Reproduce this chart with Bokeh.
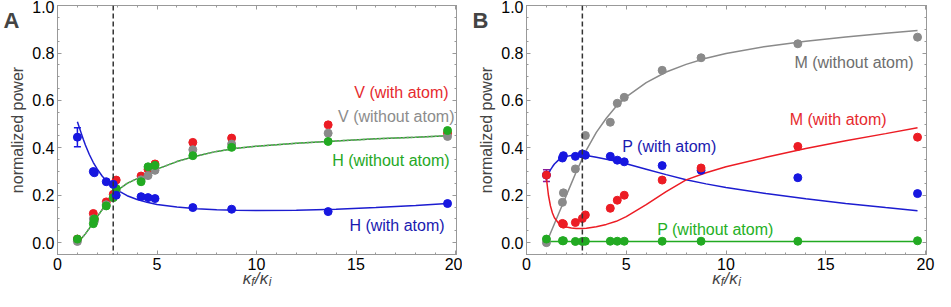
from bokeh.plotting import figure
from bokeh.layouts import row
from bokeh.models import (ColumnDataSource, FixedTicker, PrintfTickFormatter, Span,
                          Whisker, TeeHead, LinearAxis, Range1d)
from bokeh.core.properties import value
from bokeh.embed import file_html
from bokeh.resources import INLINE

# ---------------- data ----------------
kappa = [1.0, 1.8, 1.85, 2.45, 2.8, 2.95, 4.2, 4.55, 4.9, 6.8, 8.75, 13.6, 19.6]

# Panel A
a_h_with = [0.445, 0.30, 0.295, 0.257, 0.246, 0.20, 0.194, 0.19, 0.186, 0.148, 0.141, 0.131, 0.165]
a_v_with = [0.015, 0.123, 0.10, 0.172, 0.204, 0.264, 0.281, 0.309, 0.332, 0.423, 0.441, 0.497, 0.462]
a_v_without = [0.005, 0.10, 0.09, 0.16, 0.19, 0.22, 0.265, 0.283, 0.305, 0.392, 0.416, 0.462, 0.448]
a_h_without = [0.015, 0.08, 0.10, 0.155, 0.19, 0.228, 0.257, 0.32, 0.326, 0.367, 0.402, 0.427, 0.473]
a_err_x = [1.0]
a_err_y = [0.445]
a_err = [0.04]

# Panel B
b_m_without = [0.0, 0.17, 0.21, 0.311, 0.374, 0.452, 0.508, 0.588, 0.613, 0.727, 0.78, 0.839, 0.867]
b_m_with = [0.285, 0.081, 0.078, 0.085, 0.102, 0.117, 0.145, 0.179, 0.20, 0.264, 0.315, 0.406, 0.445]
b_p_with = [0.285, 0.357, 0.367, 0.364, 0.374, 0.369, 0.364, 0.348, 0.341, 0.325, 0.305, 0.274, 0.207]
b_p_without = [0.015, 0.008, 0.008, 0.005, 0.005, 0.006, 0.006, 0.006, 0.006, 0.006, 0.006, 0.006, 0.008]
b_err_x = [1.0]
b_err_y = [0.283]
b_err = [0.025]

# theory curves
curve_x = [1.0, 1.1, 1.2, 1.3, 1.4, 1.6, 1.8, 2.0, 2.25, 2.5, 2.75, 3.0, 3.5, 4.0, 4.5,
           5.0, 6.0, 7.0, 8.0, 9.0, 10.0, 12.0, 14.0, 16.0, 18.0, 19.6]
a_fit_without = [0.0, 0.008, 0.017, 0.027, 0.037, 0.06, 0.085, 0.11, 0.14, 0.168, 0.195, 0.22,
                 0.25, 0.27, 0.292, 0.31, 0.342, 0.366, 0.385, 0.398, 0.407, 0.419, 0.429,
                 0.438, 0.445, 0.451]
a_fit_h_with = [0.51, 0.485, 0.46, 0.435, 0.412, 0.372, 0.338, 0.31, 0.28, 0.258, 0.238, 0.222,
                0.198, 0.182, 0.17, 0.161, 0.15, 0.143, 0.139, 0.137, 0.136, 0.137, 0.141,
                0.148, 0.157, 0.165]
b_fit_m_without = [0.0, 0.02, 0.04, 0.06, 0.08, 0.12, 0.16, 0.2, 0.25, 0.30, 0.345, 0.39, 0.465,
                   0.525, 0.575, 0.615, 0.675, 0.72, 0.752, 0.778, 0.798, 0.828, 0.85, 0.868,
                   0.883, 0.895]
b_fit_p_with = [0.27, 0.29, 0.307, 0.32, 0.332, 0.348, 0.358, 0.364, 0.368, 0.37, 0.37, 0.368,
                0.36, 0.352, 0.343, 0.333, 0.31, 0.287, 0.265, 0.248, 0.233, 0.207, 0.185,
                0.165, 0.148, 0.135]
b_fit_m_with = [0.27, 0.2, 0.155, 0.125, 0.105, 0.083, 0.072, 0.066, 0.062, 0.06, 0.06, 0.061,
                0.067, 0.077, 0.09, 0.11, 0.16, 0.215, 0.265, 0.295, 0.32, 0.36, 0.397, 0.43,
                0.46, 0.485]
b_fit_p_without = [0.005] * len(curve_x)

threshold = 2.8
y_ticks = [0.0, 0.2, 0.4, 0.6, 0.8, 1.0]
x_ticks = [0, 5, 10, 15, 20]

RED = "#ec1c24"
BLUE = "#1717e0"
GREEN = "#22aa22"
GRAY = "#8a8a8a"
FONT = "Liberation Sans"


def hide_lines(ax):
    ax.axis_line_color = None
    ax.major_tick_line_color = None
    ax.minor_tick_line_color = None
    ax.major_tick_in = 0
    ax.major_tick_out = 0
    ax.minor_tick_in = 0
    ax.minor_tick_out = 0


def style_ticks(ax):
    ax.axis_line_color = "#999999"
    ax.major_tick_line_color = "#999999"
    ax.minor_tick_line_color = "#999999"
    ax.major_tick_in = 4
    ax.major_tick_out = 0
    ax.minor_tick_in = 2
    ax.minor_tick_out = 0


def make_fig(width, left, right, letter):
    p = figure(width=width, height=291, x_range=(0, 20.05), y_range=(-0.05, 1.0005),
               output_backend="svg", toolbar_location=None,
               min_border_left=left, min_border_right=right, min_border_top=5,
               min_border_bottom=36)
    p.grid.visible = False
    p.outline_line_color = "#999999"
    p.background_fill_color = "white"
    p.border_fill_color = "white"
    for ax in (p.xaxis[0], p.yaxis[0]):
        style_ticks(ax)
        ax.major_label_text_font = FONT
        ax.major_label_text_font_size = "16px"
        ax.major_label_text_color = "black"
        ax.major_label_standoff = 3
    x_minor = list(range(0, 21))
    y_minor = [i * 0.05 for i in range(-1, 21)]
    p.xaxis.ticker = FixedTicker(ticks=x_ticks, minor_ticks=x_minor)
    p.yaxis.ticker = FixedTicker(ticks=y_ticks, minor_ticks=y_minor)
    p.yaxis.formatter = PrintfTickFormatter(format="%.1f")
    p.yaxis.axis_label = "normalized power"
    p.yaxis.axis_label_text_font = FONT
    p.yaxis.axis_label_text_font_size = "16px"
    p.yaxis.axis_label_text_font_style = "normal"
    p.yaxis.axis_label_standoff = 3

    # tick marks on the top and right frame edges (no labels)
    top = LinearAxis(ticker=FixedTicker(ticks=x_ticks, minor_ticks=x_minor),
                     major_label_overrides={t: "" for t in x_ticks},
                     major_label_standoff=0)
    style_ticks(top)
    p.add_layout(top, "above")
    rgt = LinearAxis(ticker=FixedTicker(ticks=y_ticks, minor_ticks=y_minor),
                     major_label_overrides={t: "" for t in y_ticks},
                     major_label_standoff=0)
    style_ticks(rgt)
    p.add_layout(rgt, "right")

    p.add_layout(Span(location=threshold, dimension="height", line_color="#333333",
                      line_dash="5 3", line_width=1.5))

    # panel letter as the only tick label of an extra (line-less) left axis
    lax = LinearAxis(ticker=FixedTicker(ticks=[1.0]),
                     major_label_overrides={1.0: letter},
                     major_label_text_font=FONT, major_label_text_font_size="22px",
                     major_label_text_font_style="bold", major_label_standoff=-13)
    hide_lines(lax)
    p.add_layout(lax, "left")

    # x-axis title kappa_f / kappa_i, built from two line-less axes (pixel range)
    half = 200
    p.extra_x_ranges = {"lab": Range1d(-half, half)}
    main = LinearAxis(x_range_name="lab", ticker=FixedTicker(ticks=[-10, 0, 7]),
                      major_label_overrides={-10: "κ", 0: "/", 7: "κ"},
                      major_label_text_font=FONT, major_label_text_font_size="17px",
                      major_label_text_font_style="italic", major_label_standoff=-4)
    hide_lines(main)
    p.add_layout(main, "below")
    sub = LinearAxis(x_range_name="lab", ticker=FixedTicker(ticks=[-4, 13]),
                     major_label_overrides={-4: "f", 13: "i"},
                     major_label_text_font=FONT, major_label_text_font_size="12px",
                     major_label_text_font_style="italic", major_label_standoff=-16)
    hide_lines(sub)
    p.add_layout(sub, "below")
    return p


def label(p, x, y, t, color, align):
    p.text(x=[x], y=[y], text=[t], text_color=color, text_font=value(FONT),
           text_font_size="16px", text_align=align, text_baseline="middle")


# ---------------- panel A ----------------
pA = make_fig(462, 44, 6, "A")
pA.line(curve_x, a_fit_h_with, line_color="#1c1cd0", line_width=1.5)
pA.line(curve_x, a_fit_without, line_color=GREEN, line_width=1.5)
pA.line(curve_x, a_fit_without, line_color=GRAY, line_width=1.5, line_dash="2 2")
srcA = ColumnDataSource(dict(x=a_err_x,
                             lower=[y - e for y, e in zip(a_err_y, a_err)],
                             upper=[y + e for y, e in zip(a_err_y, a_err)]))
pA.add_layout(Whisker(source=srcA, base="x", lower="lower", upper="upper",
                      line_color=BLUE, line_width=1.5,
                      upper_head=TeeHead(size=7, line_color=BLUE, line_width=1.5),
                      lower_head=TeeHead(size=7, line_color=BLUE, line_width=1.5)))
pA.scatter(kappa, a_v_with, size=8, color=RED)
pA.scatter(kappa, a_v_without, size=8, color=GRAY)
pA.scatter(kappa, a_h_without, size=8, color=GREEN)
pA.scatter(kappa, a_h_with, size=8, color=BLUE)
label(pA, 19.65, 0.634, "V (with atom)", "#e62a2e", "right")
label(pA, 19.95, 0.532, "V (without atom)", "#8c8c8c", "right")
label(pA, 19.7, 0.346, "H (without atom)", "#25a825", "right")
label(pA, 19.45, 0.071, "H (with atom)", "#1a1ab0", "right")

# ---------------- panel B ----------------
pB = make_fig(473, 64, 9, "B")
pB.line(curve_x, b_fit_m_without, line_color=GRAY, line_width=1.5)
pB.line(curve_x, b_fit_p_with, line_color="#1c1cd0", line_width=1.5)
pB.line(curve_x, b_fit_m_with, line_color=RED, line_width=1.5)
pB.line(curve_x, b_fit_p_without, line_color=GREEN, line_width=1.5)
srcB = ColumnDataSource(dict(x=b_err_x,
                             lower=[y - e for y, e in zip(b_err_y, b_err)],
                             upper=[y + e for y, e in zip(b_err_y, b_err)]))
pB.add_layout(Whisker(source=srcB, base="x", lower="lower", upper="upper",
                      line_color="#8a1a9a", line_width=1.5,
                      upper_head=TeeHead(size=7, line_color="#8a1a9a", line_width=1.5),
                      lower_head=TeeHead(size=7, line_color="#8a1a9a", line_width=1.5)))
pB.scatter(kappa, b_m_without, size=8, color=GRAY)
pB.scatter(kappa, b_p_with, size=8, color=BLUE)
pB.scatter(kappa, b_m_with, size=8, color=RED)
pB.scatter(kappa, b_p_without, size=8, color=GREEN)
label(pB, 19.4, 0.76, "M (without atom)", "#6e6e6e", "right")
label(pB, 18.05, 0.52, "M (with atom)", "#e62a2e", "right")
label(pB, 4.8, 0.405, "P (with atom)", "#1a1ab0", "left")
label(pB, 6.55, 0.057, "P (without atom)", "#25b025", "left")

layout = row(pA, pB)
open("out.html", "w").write(file_html(layout, INLINE))
